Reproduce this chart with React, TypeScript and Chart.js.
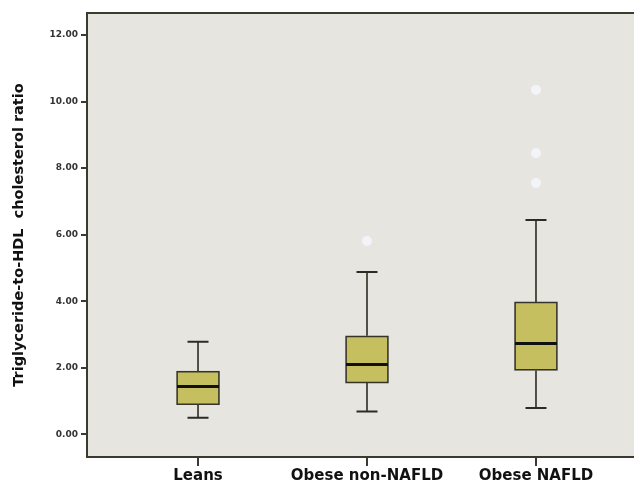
import React, { useEffect, useRef } from "react";
import { Chart, registerables } from "chart.js";

Chart.register(...registerables);

const categories = ["Leans", "Obese non-NAFLD", "Obese NAFLD"];
const whiskerLow = [0.5, 0.69, 0.79];
const q1 = [0.89, 1.54, 1.92];
const median = [1.44, 2.1, 2.73];
const q3 = [1.9, 2.96, 3.98];
const whiskerHigh = [2.78, 4.88, 6.44];
const outlierGroup = [1, 2, 2, 2];
const outlierValue = [5.81, 10.35, 8.45, 7.55];
const yTicks = [0, 2, 4, 6, 8, 10, 12];

const FRAME = "#3b3a2e";
const FONT = "'DejaVu Sans', sans-serif";

const boxPlugin = {
  id: "boxParts",
  beforeDraw(chart: any) {
    const { ctx, chartArea: a } = chart;
    ctx.save();
    ctx.fillStyle = "#e6e5e0";
    ctx.fillRect(a.left, a.top, a.right - a.left, a.bottom - a.top);
    ctx.restore();
  },
  beforeDatasetsDraw(chart: any) {
    const { ctx } = chart;
    const xs = chart.scales.x;
    const ys = chart.scales.y;
    ctx.save();
    ctx.strokeStyle = "#2e2c22";
    const capHalf = 10.5;
    categories.forEach((_, i) => {
      const x = xs.getPixelForValue(i);
      const yl = ys.getPixelForValue(whiskerLow[i]);
      const y1 = ys.getPixelForValue(q1[i]);
      const y3 = ys.getPixelForValue(q3[i]);
      const yh = ys.getPixelForValue(whiskerHigh[i]);
      ctx.lineWidth = 1.6;
      ctx.beginPath();
      ctx.moveTo(x, yl);
      ctx.lineTo(x, y1);
      ctx.moveTo(x, y3);
      ctx.lineTo(x, yh);
      ctx.stroke();
      ctx.lineWidth = 2;
      ctx.beginPath();
      ctx.moveTo(x - capHalf, yl);
      ctx.lineTo(x + capHalf, yl);
      ctx.moveTo(x - capHalf, yh);
      ctx.lineTo(x + capHalf, yh);
      ctx.stroke();
    });
    ctx.restore();
  },
  afterDatasetsDraw(chart: any) {
    const { ctx } = chart;
    const xs = chart.scales.x;
    const ys = chart.scales.y;
    ctx.save();
    ctx.strokeStyle = "#111";
    ctx.lineWidth = 3;
    const half = 21;
    categories.forEach((_, i) => {
      const x = xs.getPixelForValue(i);
      const y = ys.getPixelForValue(median[i]);
      ctx.beginPath();
      ctx.moveTo(x - half, y);
      ctx.lineTo(x + half, y);
      ctx.stroke();
    });
    ctx.restore();
  },
  afterDraw(chart: any) {
    const { ctx, chartArea: a } = chart;
    ctx.save();
    ctx.strokeStyle = FRAME;
    ctx.lineWidth = 2;
    ctx.beginPath();
    ctx.moveTo(a.right + 2, a.top);
    ctx.lineTo(a.left, a.top);
    ctx.lineTo(a.left, a.bottom);
    ctx.lineTo(a.right + 2, a.bottom);
    ctx.stroke();
    ctx.restore();
  },
};

export default function App() {
  const ref = useRef<HTMLCanvasElement | null>(null);

  useEffect(() => {
    if (!ref.current) return;
    const chart = new Chart(ref.current, {
      type: "bar",
      data: {
        datasets: [
          {
            type: "bar",
            data: categories.map((_, i) => ({ x: i, y: [q1[i], q3[i]] })) as any,
            backgroundColor: "#c6bf60",
            borderColor: "#35332a",
            borderWidth: 1.7,
            borderSkipped: false,
            barThickness: 43,
            order: 2,
          } as any,
          {
            type: "scatter",
            data: outlierValue.map((v, i) => ({ x: outlierGroup[i], y: v })),
            backgroundColor: "rgba(242,244,250,0.95)",
            borderWidth: 0,
            pointRadius: 5,
            order: 1,
          } as any,
        ],
      },
      options: {
        animation: false,
        responsive: false,
        maintainAspectRatio: false,
        layout: { autoPadding: false, padding: { top: 13, right: 0, left: 0, bottom: 0 } },
        plugins: { legend: { display: false }, tooltip: { enabled: false } },
        scales: {
          x: {
            type: "linear",
            offset: false,
            min: -0.657,
            max: 2.58,
            afterBuildTicks: (s: any) => {
              s.ticks = categories.map((_, i) => ({ value: i }));
            },
            afterFit: (s: any) => {
              s.height = 30;
              s.paddingLeft = 0;
              s.paddingRight = 0;
            },
            ticks: {
              autoSkip: false,
              maxRotation: 0,
              padding: 1,
              color: "#111",
              font: { family: FONT, size: 15, weight: "bold" },
              callback: (v: any) => categories[v] ?? "",
            },
            grid: {
              offset: false,
              drawOnChartArea: false,
              drawTicks: true,
              tickLength: 9,
              tickColor: FRAME,
              lineWidth: 2,
            },
            border: { display: false },
          },
          y: {
            type: "linear",
            min: -0.68,
            max: 12.66,
            afterBuildTicks: (s: any) => {
              s.ticks = yTicks.map((v) => ({ value: v }));
            },
            afterFit: (s: any) => {
              s.width = 87;
              s.paddingTop = 0;
              s.paddingBottom = 0;
            },
            ticks: {
              padding: 3,
              color: "#333",
              font: { family: FONT, size: 9, weight: "bold" },
              callback: (v: any) => Number(v).toFixed(2),
            },
            grid: {
              drawOnChartArea: false,
              drawTicks: true,
              tickLength: 6,
              tickColor: FRAME,
              lineWidth: 2,
            },
            border: { display: false },
            title: {
              display: true,
              text: "Triglyceride-to-HDL  cholesterol ratio",
              color: "#111",
              font: { family: FONT, size: 14.5, weight: "bold" },
              padding: { top: 11, bottom: 0 },
            },
          },
        },
      },
      plugins: [boxPlugin],
    });
    return () => chart.destroy();
  }, []);

  return (
    <div
      style={{
        position: "fixed",
        left: 0,
        top: 0,
        width: 634,
        height: 487,
        overflow: "hidden",
        background: "#fff",
      }}
    >
      <canvas ref={ref} width={634} height={487} style={{ display: "block" }} />
    </div>
  );
}
